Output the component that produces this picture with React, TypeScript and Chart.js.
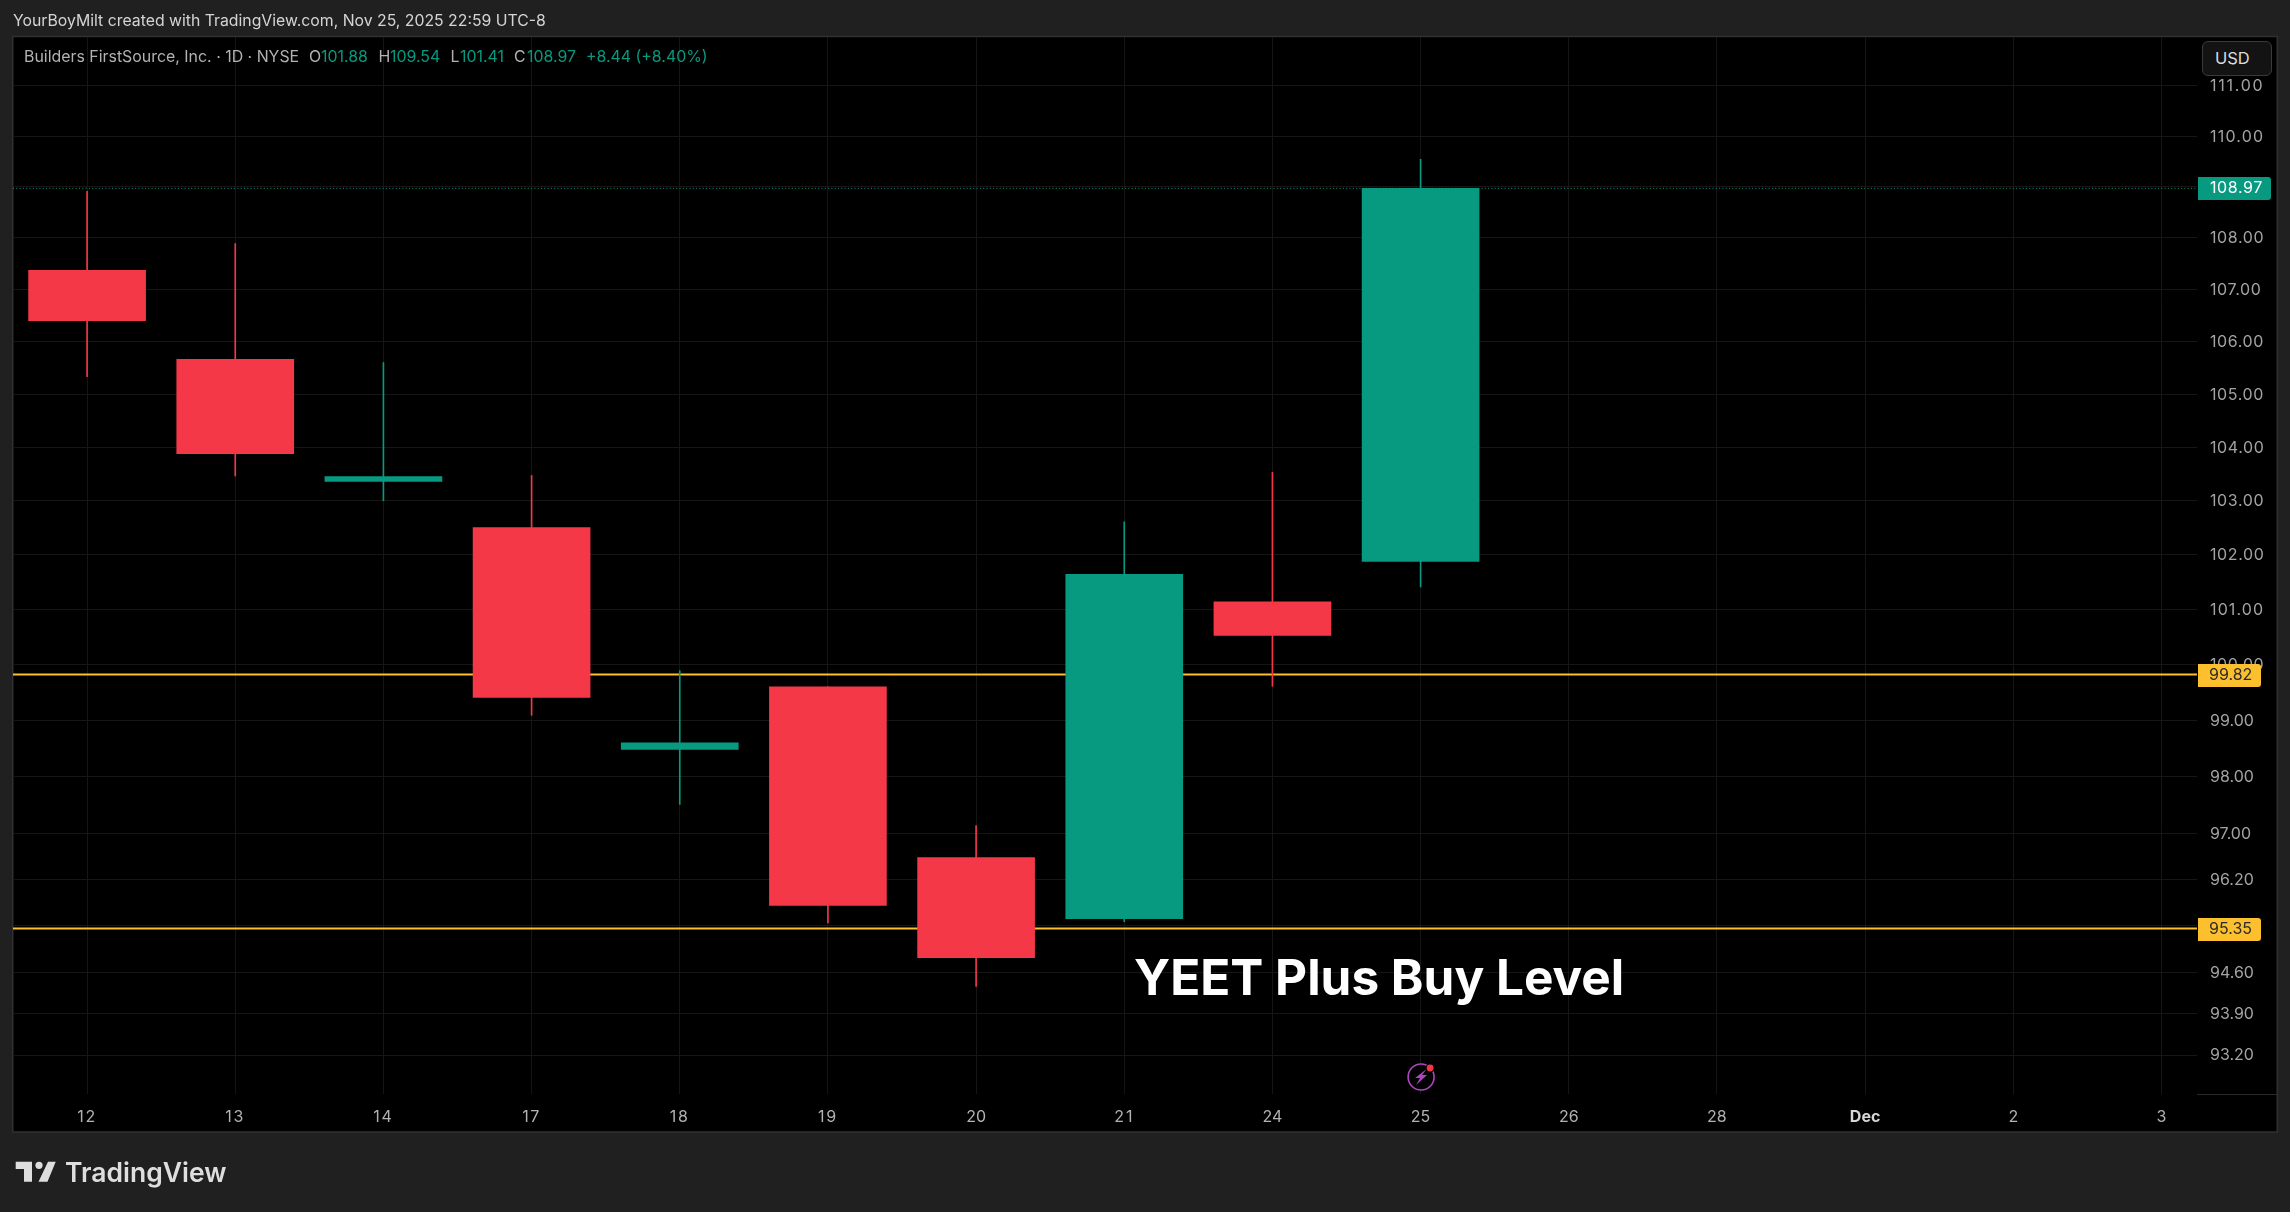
import React, { useEffect, useRef } from "react";
import { Chart, registerables } from "chart.js";

Chart.register(...registerables);

const dayLabels = ["12", "13", "14", "17", "18", "19", "20", "21", "24", "25", "26", "28", "Dec", "2", "3"];
const opens = [107.37, 105.66, 103.36, 102.5, 98.48, 99.6, 96.58, 95.52, 101.14, 101.88];
const highs = [108.91, 107.89, 105.6, 103.47, 99.89, 99.6, 97.14, 102.61, 103.53, 109.54];
const lows = [105.33, 103.46, 103.0, 99.09, 97.51, 95.45, 94.36, 95.47, 99.61, 101.41];
const closes = [106.4, 103.88, 103.45, 99.41, 98.6, 95.75, 94.85, 101.64, 100.53, 108.97];
const priceTicks = [111, 110, 109, 108, 107, 106, 105, 104, 103, 102, 101, 100, 99, 98, 97, 96.2, 95.4, 94.6, 93.9, 93.2];
const hiddenTicks = [109, 95.4];
const lastPrice = 108.97;
const levelPrices = [99.82, 95.35];
const legendParts: [string, number, string][] = [
  ["Builders FirstSource, Inc. · 1D · NYSE", 24, "#b2b2b2"],
  ["O", 309, "#b2b2b2"],
  ["101.88", 321, "#089981"],
  ["H", 378.5, "#b2b2b2"],
  ["109.54", 390, "#089981"],
  ["L", 450.5, "#b2b2b2"],
  ["101.41", 460, "#089981"],
  ["C", 514, "#b2b2b2"],
  ["108.97", 527, "#089981"],
  ["+8.44 (+8.40%)", 586, "#089981"],
];

const X_MIN = -0.5;
const X_MAX = 14.24;
const Y_MIN = 92.548;
const Y_MAX = 111.985;
const UP = "#089981";
const DOWN = "#f43848";
const GOLD = "#fcbf2d";
const GRID = "#161616";
const FONT = "Inter, 'Noto Sans', sans-serif";
const indices = opens.map((_, i) => i);
const colors = opens.map((o, i) => (closes[i] >= o ? UP : DOWN));

// Axis numbers use even-width figures: widen the narrow "1" strings to match.
function useEvenFigures(ctx: any) {
  if (ctx.__even) return;
  ctx.__even = true;
  const fill = ctx.fillText.bind(ctx);
  ctx.fillText = (text: any, x: number, y: number, ...rest: any[]) => {
    const s = String(text);
    if (/^\d+(\.\d+)?$/.test(s) && s.includes("1")) {
      ctx.letterSpacing = "0px";
      const wanted = ctx.measureText(s.replace(/1/g, "0")).width;
      const actual = ctx.measureText(s).width;
      ctx.letterSpacing = `${(wanted - actual) / s.length}px`;
      fill(s, x, y + 0.6, ...rest);
      ctx.letterSpacing = "0px";
    } else {
      fill(text, x, y + 0.6, ...rest);
    }
  };
}

const framePlugin = {
  id: "frame",
  beforeDraw(chart: any) {
    const { ctx, width, height } = chart;
    useEvenFigures(ctx);
    ctx.save();
    ctx.fillStyle = "#202020";
    ctx.fillRect(0, 0, width, height);
    ctx.fillStyle = "#000000";
    ctx.fillRect(13, 37, 2264, 1095);
    ctx.strokeStyle = "#303030";
    ctx.lineWidth = 1.5;
    ctx.strokeRect(12.75, 36.5, 2264.5, 1095.5);
    ctx.restore();
  },
  afterDatasetsDraw(chart: any) {
    const { ctx, scales } = chart;
    const y = scales.y;
    const x = scales.x;
    const right = chart.chartArea.right;
    const box = (val: number, w: number, fill: string, text: string, tx: number) => {
      const py = Math.round(y.getPixelForValue(val));
      ctx.fillStyle = fill;
      ctx.beginPath();
      ctx.roundRect(right + 1, py - 11, w, 23, [0, 3, 3, 0]);
      ctx.fill();
      ctx.fillStyle = text;
      ctx.font = `16px ${FONT}`;
      ctx.textAlign = "left";
      ctx.textBaseline = "middle";
      ctx.fillText(val.toFixed(2), tx, py);
    };
    ctx.save();
    ctx.strokeStyle = "#2a2a2a";
    ctx.lineWidth = 1;
    ctx.beginPath();
    ctx.moveTo(right, chart.chartArea.bottom + 0.5);
    ctx.lineTo(2277, chart.chartArea.bottom + 0.5);
    ctx.stroke();
    box(lastPrice, 73, UP, "#ffffff", 2210);
    levelPrices.forEach((p) => box(p, 63, GOLD, "#2a2a2a", 2209));

    // earnings marker on the last candle's date
    const cx = x.getPixelForValue(9) + 0.5;
    const cy = 1077;
    ctx.fillStyle = "#000000";
    ctx.beginPath();
    ctx.arc(cx, cy, 14, 0, Math.PI * 2);
    ctx.fill();
    ctx.strokeStyle = "#ab47bc";
    ctx.lineWidth = 1.6;
    ctx.beginPath();
    ctx.arc(cx, cy, 13, 0, Math.PI * 2);
    ctx.stroke();
    ctx.fillStyle = "#ab47bc";
    ctx.beginPath();
    ctx.moveTo(cx + 5.5, cy - 8);
    ctx.lineTo(cx - 6, cy + 1);
    ctx.lineTo(cx - 1, cy + 1);
    ctx.lineTo(cx - 5, cy + 8);
    ctx.lineTo(cx + 6, cy - 2);
    ctx.lineTo(cx + 1, cy - 2);
    ctx.closePath();
    ctx.fill();
    ctx.fillStyle = "#000000";
    ctx.beginPath();
    ctx.arc(cx + 9, cy - 9, 4.6, 0, Math.PI * 2);
    ctx.fill();
    ctx.fillStyle = "#f23645";
    ctx.beginPath();
    ctx.arc(cx + 9, cy - 9, 3.4, 0, Math.PI * 2);
    ctx.fill();
    ctx.restore();
  },
};

const abs = (left: number, top: number, extra: React.CSSProperties = {}): React.CSSProperties => ({
  position: "absolute",
  left,
  top,
  whiteSpace: "nowrap",
  fontFamily: FONT,
  ...extra,
});

export default function App() {
  const ref = useRef<HTMLCanvasElement>(null);

  useEffect(() => {
    if (!ref.current) return;
    const chart = new Chart(ref.current, {
      type: "bar",
      data: {
        datasets: [
          {
            type: "line",
            label: "Last",
            data: [{ x: X_MIN, y: lastPrice }, { x: X_MAX, y: lastPrice }],
            borderColor: UP,
            borderWidth: 1,
            borderDash: [1, 2.3],
            pointRadius: 0,
            order: 5,
          },
          ...levelPrices.map((p) => ({
            type: "line",
            label: `Level ${p}`,
            data: [{ x: X_MIN, y: p }, { x: X_MAX, y: p }],
            borderColor: GOLD,
            borderWidth: 2,
            pointRadius: 0,
            order: 4,
          })),
          {
            label: "Wick",
            data: indices.map((i) => ({ x: i, y: [lows[i], highs[i]] })),
            backgroundColor: colors,
            barThickness: 1,
            grouped: false,
            order: 2,
          },
          {
            label: "Body",
            data: indices.map((i) => ({ x: i, y: [Math.min(opens[i], closes[i]), Math.max(opens[i], closes[i])] })),
            backgroundColor: colors,
            barThickness: 117,
            grouped: false,
            order: 1,
          },
        ] as any,
      },
      options: {
        responsive: false,
        animation: false,
        devicePixelRatio: 1,
        layout: { padding: { left: 13, top: 37, right: 13, bottom: 81 } },
        plugins: { legend: { display: false }, tooltip: { enabled: false }, title: { display: false } },
        scales: {
          x: {
            type: "linear",
            min: X_MIN,
            max: X_MAX,
            offset: false,
            border: { display: false },
            grid: { color: GRID, lineWidth: 1, offset: false, drawTicks: false },
            afterBuildTicks: (s: any) => {
              s.ticks = dayLabels.map((_, i) => ({ value: i }));
            },
            afterFit: (s: any) => {
              s.height = 37;
            },
            ticks: {
              autoSkip: false,
              maxRotation: 0,
              padding: 13,
              callback: (v: any) => dayLabels[v],
              color: (c: any) => (dayLabels[c.tick?.value] === "Dec" ? "#d6d6d6" : "#b2b2b2"),
              font: (c: any) => ({
                family: FONT,
                size: 16,
                weight: dayLabels[c.tick?.value] === "Dec" ? "bold" : "normal",
              }),
            },
          },
          y: {
            type: "logarithmic",
            position: "right",
            min: Y_MIN,
            max: Y_MAX,
            border: { display: false },
            grid: { color: GRID, lineWidth: 1, drawTicks: false },
            afterBuildTicks: (s: any) => {
              s.ticks = priceTicks.map((value) => ({ value }));
            },
            afterFit: (s: any) => {
              s.width = 80;
            },
            ticks: {
              autoSkip: false,
              padding: 13,
              crossAlign: "near",
              align: "center",
              color: "#a3a3a3",
              font: { family: FONT, size: 16 },
              callback: (v: any) => (hiddenTicks.includes(Number(v)) ? "" : Number(v).toFixed(2)),
            },
          },
        },
      } as any,
      plugins: [framePlugin as any],
    });
    return () => chart.destroy();
  }, []);

  return (
    <div style={{ position: "absolute", left: 0, top: 0, width: 2290, height: 1212, overflow: "hidden", background: "#202020" }}>
      <canvas ref={ref} width={2290} height={1212} style={{ display: "block" }} />
      <div style={abs(13, 11, { fontSize: 15.8, lineHeight: "20px", color: "#d4d4d4" })}>
        YourBoyMilt created with TradingView.com, Nov 25, 2025 22:59 UTC-8
      </div>
      {legendParts.map(([t, x, c]) => (
        <div key={`${t}${x}`} style={abs(x, 47, { fontSize: 15.9, lineHeight: "20px", color: c })}>
          {t}
        </div>
      ))}
      <div
        style={abs(2202, 41, {
          width: 70,
          height: 35,
          boxSizing: "border-box",
          background: "#131313",
          border: "1px solid #3a3a3a",
          borderRadius: 6,
          color: "#dcdcdc",
          fontSize: 16.5,
          lineHeight: "33px",
          paddingLeft: 12,
        })}
      >
        USD
      </div>
      <div style={abs(1134, 946, { fontSize: 49.5, lineHeight: "62px", fontWeight: 700, color: "#ffffff" })}>
        YEET Plus Buy Level
      </div>
      <svg width={42} height={22} style={{ position: "absolute", left: 15, top: 1161 }} viewBox="0 0 42 22">
        <path d="M0.7 0.7H17V20.7H9V8H0.7Z M33 0.7H40.7L32.5 20.7H23.5Z" fill="#dedede" />
        <circle cx="24" cy="4.3" r="3.6" fill="#dedede" />
      </svg>
      <div style={abs(65, 1155, { fontSize: 26.5, lineHeight: "34px", fontWeight: 600, color: "#dedede" })}>TradingView</div>
    </div>
  );
}
